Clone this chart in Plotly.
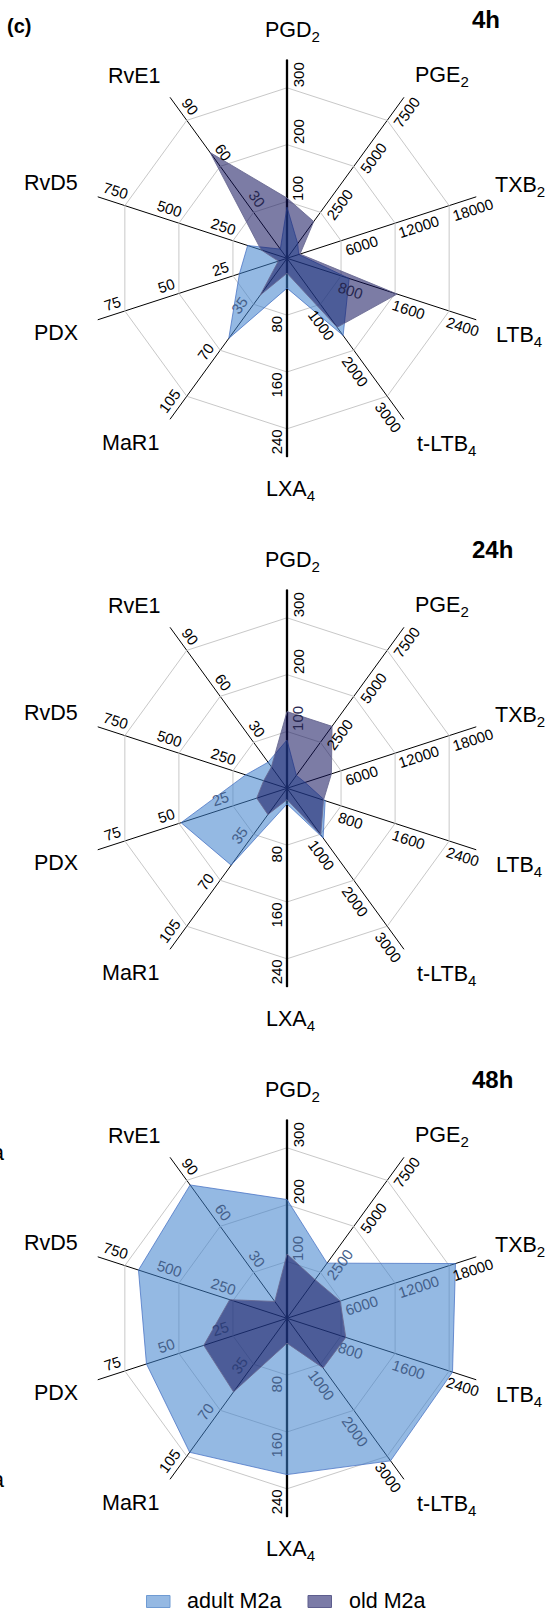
import math
import plotly.graph_objects as go

# ---------------- data ----------------
CATEGORIES = ["PGD2", "PGE2", "TXB2", "LTB4", "t-LTB4", "LXA4", "MaR1", "PDX", "RvD5", "RvE1"]
CATEGORY_TEXT = ["PGD<sub>2</sub>", "PGE<sub>2</sub>", "TXB<sub>2</sub>", "LTB<sub>4</sub>",
                 "t-LTB<sub>4</sub>", "LXA<sub>4</sub>", "MaR1", "PDX", "RvD5", "RvE1"]
AXIS_TICKS = [
    [100, 200, 300],
    [2500, 5000, 7500],
    [6000, 12000, 18000],
    [800, 1600, 2400],
    [1000, 2000, 3000],
    [80, 160, 240],
    [35, 70, 105],
    [25, 50, 75],
    [250, 500, 750],
    [30, 60, 90],
]
PANELS = ["4h", "24h", "48h"]
SERIES = ["adult M2a", "old M2a"]

ADULT_4H = [90, 800, 1300, 920, 1680, 42, 61, 22, 182, 6]
OLD_4H = [106, 2000, 1450, 1630, 1500, 21, 28, 4, 120, 69]
ADULT_24H = [85, 700, 2000, 565, 1080, 22, 58.5, 49, 191, 17]
OLD_24H = [135, 3370, 4930, 540, 1010, 16, 20, 14, 108, 14]
ADULT_48H = [209, 3000, 18700, 2450, 3100, 220, 102, 65, 687, 87]
OLD_48H = [113, 2100, 5900, 870, 1080, 35, 56, 38.5, 265, 11]

PANEL_DATA = [(ADULT_4H, OLD_4H), (ADULT_24H, OLD_24H), (ADULT_48H, OLD_48H)]

# ---------------- layout / style ----------------
W, H = 547, 1612
CX = 287.0
CYS = [258.3, 788.3, 1318.3]
R1 = 170.5          # pixel radius of the outermost grid polygon (value = axis max)
R_OUT = 199.0       # pixel length of the spokes
RMAX = R_OUT / R1
FONT = "Liberation Sans, Arial, sans-serif"
TICK_FS = 15
CAT_FS = 21.5
PERP = 11.0

ADULT_FILL = "rgba(60,128,204,0.55)"
ADULT_LINE = "rgba(70,112,195,0.75)"
OLD_FILL = "rgba(17,17,91,0.55)"
OLD_LINE = "rgba(105,105,145,0.85)"

# label centre offsets (px, screen coords) relative to panel centre
LABEL_OFFSETS = [(5, -227), (155, -182), (233, -72), (232, 78), (159, 187),
                 (4, 232), (-157, 185), (-231, 75), (-236, -75), (-153, -182)]

ANGLES = [36.0 * i for i in range(len(CATEGORIES))]


def px2paper(x, y):
    return x / W, 1 - y / H


def point_in_poly(pt, poly):
    x, y = pt
    inside = False
    n = len(poly)
    for i in range(n):
        x1, y1 = poly[i]
        x2, y2 = poly[(i + 1) % n]
        if (y1 > y) != (y2 > y):
            xi = x1 + (y - y1) * (x2 - x1) / (y2 - y1)
            if xi > x:
                inside = not inside
    return inside


fig = go.Figure()
annotations = []
layout_polars = {}

for p, (label, (adult, old)) in enumerate(zip(PANELS, PANEL_DATA)):
    cy = CYS[p]
    key = "polar" if p == 0 else f"polar{p + 1}"
    dom_x = [(CX - R_OUT) / W, (CX + R_OUT) / W]
    dom_y = [1 - (cy + R_OUT) / H, 1 - (cy - R_OUT) / H]
    layout_polars[key] = dict(
        domain=dict(x=dom_x, y=dom_y),
        bgcolor="white",
        gridshape="linear",
        radialaxis=dict(range=[0, RMAX], tickvals=[1 / 3, 2 / 3, 1], showticklabels=False,
                        ticks="", showline=False, gridcolor="#c8c8c8", gridwidth=1),
        angularaxis=dict(type="category", categoryorder="array", categoryarray=CATEGORIES,
                         direction="clockwise", rotation=90, showticklabels=False, ticks="",
                         showline=False, gridcolor="black", gridwidth=1),
    )

    # thick vertical axis PGD2 - LXA4
    fig.add_trace(go.Scatterpolar(r=[RMAX, RMAX], theta=[CATEGORIES[0], CATEGORIES[5]],
                                  mode="lines", line=dict(color="black", width=2.3),
                                  subplot=key, showlegend=False, hoverinfo="skip"))

    fracs = []
    for name, vals, fc, lc in ((SERIES[0], adult, ADULT_FILL, ADULT_LINE),
                               (SERIES[1], old, OLD_FILL, OLD_LINE)):
        fr = [v / AXIS_TICKS[i][-1] for i, v in enumerate(vals)]
        fracs.append(fr)
        fig.add_trace(go.Scatterpolar(
            r=fr + [fr[0]], theta=CATEGORIES + [CATEGORIES[0]],
            mode="lines", fill="toself", fillcolor=fc, line=dict(color=lc, width=1),
            name=name, subplot=key, showlegend=False, hoverinfo="skip"))

    polys = []
    for fr in fracs:
        polys.append([(CX + f * R1 * math.sin(math.radians(a)),
                       cy - f * R1 * math.cos(math.radians(a))) for f, a in zip(fr, ANGLES)])

    # tick labels along each spoke
    for i, a in enumerate(ANGLES):
        t = math.radians(a)
        ux, uy = math.sin(t), -math.cos(t)
        qx, qy = math.cos(t), math.sin(t)
        ang = a - 90
        if ang >= 90:
            ang -= 180
        for k, tv in enumerate(AXIS_TICKS[i]):
            txt = str(tv)
            L = len(txt) * 0.556 * TICK_FS
            along = (k + 1) / 3 * R1 + L / 2 + 1
            x = CX + ux * along + qx * PERP
            y = cy + uy * along + qy * PERP
            ina = point_in_poly((x, y), polys[0])
            ino = point_in_poly((x, y), polys[1])
            if ina and ino:
                col = "#2e4079"
            elif ina:
                col = "#44608a"
            elif ino:
                col = "#26264f"
            else:
                col = "black"
            xp, yp = px2paper(x, y)
            annotations.append(dict(x=xp, y=yp, xref="paper", yref="paper", text=txt,
                                    showarrow=False, textangle=ang, xanchor="center",
                                    yanchor="middle",
                                    font=dict(family=FONT, size=TICK_FS, color=col)))

    # category labels
    for i, (dx, dy) in enumerate(LABEL_OFFSETS):
        xp, yp = px2paper(CX + dx, cy + dy)
        annotations.append(dict(x=xp, y=yp, xref="paper", yref="paper", text=CATEGORY_TEXT[i],
                                showarrow=False, xanchor="center", yanchor="middle",
                                font=dict(family=FONT, size=CAT_FS, color="black")))

    # panel title
    xp, yp = px2paper(470, cy - 239)
    annotations.append(dict(x=xp, y=yp, xref="paper", yref="paper", text=f"<b>{label}</b>",
                            showarrow=False, xanchor="left", yanchor="middle",
                            font=dict(family=FONT, size=24, color="black")))

# panel letter
xp, yp = px2paper(5, 26)
annotations.append(dict(x=xp, y=yp, xref="paper", yref="paper", text="<b>(c)</b>",
                        showarrow=False, xanchor="left", yanchor="middle",
                        font=dict(family=FONT, size=20, color="black")))

# cut-off text from neighbouring panel (as in the reference)
for yy in (1153, 1480):
    xp, yp = px2paper(6, yy)
    annotations.append(dict(x=xp, y=yp, xref="paper", yref="paper", text="a",
                            showarrow=False, xanchor="right", yanchor="middle",
                            font=dict(family=FONT, size=CAT_FS, color="black")))

# legend (manual)
shapes = []
LEG_Y = 1601.5
leg_items = [(SERIES[0], 146.5, "#95b9e3", "#6f9bd3"), (SERIES[1], 308.0, "#7b7ba7", "#5e5e8e")]
for name, x0, fc, lc in leg_items:
    shapes.append(dict(type="rect", xref="paper", yref="paper",
                       x0=x0 / W, x1=(x0 + 23.5) / W,
                       y0=1 - (LEG_Y + 6) / H, y1=1 - (LEG_Y - 6) / H,
                       fillcolor=fc, line=dict(color=lc, width=1)))
    xp, yp = px2paper(x0 + 38.5, LEG_Y - 1)
    annotations.append(dict(x=xp, y=yp, xref="paper", yref="paper", text=name,
                            showarrow=False, xanchor="left", yanchor="middle",
                            font=dict(family=FONT, size=CAT_FS, color="black")))

fig.update_layout(
    width=W, height=H,
    margin=dict(l=0, r=0, t=0, b=0),
    paper_bgcolor="white",
    showlegend=False,
    annotations=annotations,
    shapes=shapes,
    **layout_polars,
)

fig.write_html("out.html", config={"displayModeBar": False},
               post_script="document.body.style.margin='0';")
